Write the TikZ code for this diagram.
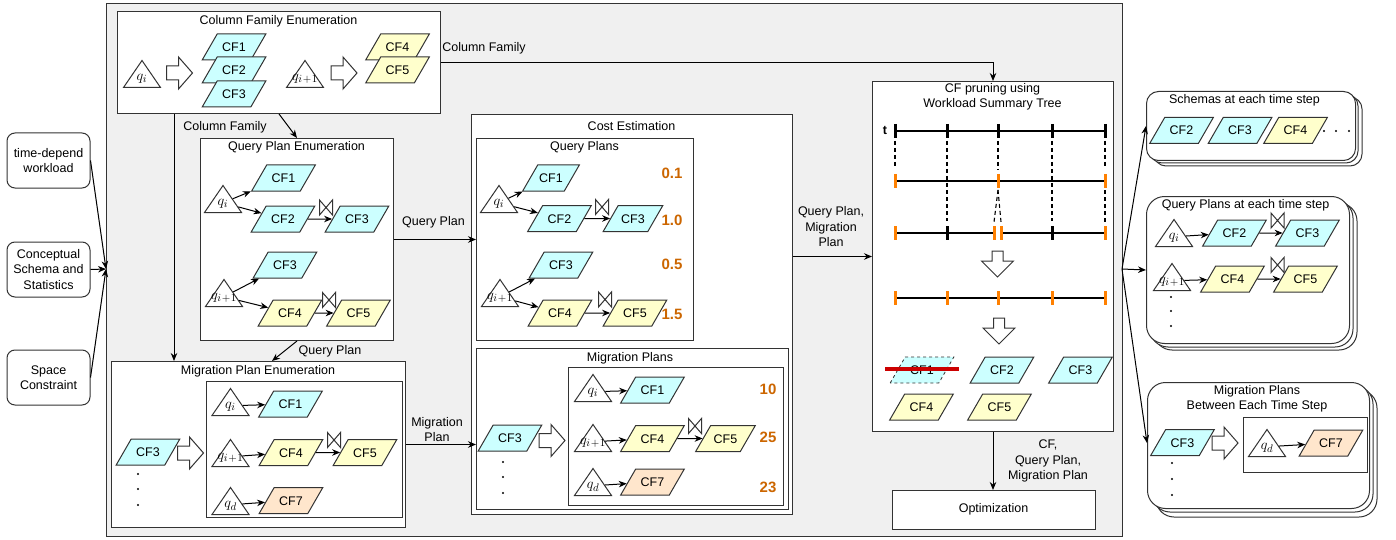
\documentclass[tikz,border=0pt]{standalone}
\usepackage{fontspec}
\setmainfont{Liberation Sans}
\usetikzlibrary{shapes.geometric, arrows.meta, calc}
\DeclareMathSizes{14}{14}{11}{9}
\definecolor{cfblue}{HTML}{CCFFFF}
\definecolor{cfyel}{HTML}{FFFFCC}
\definecolor{cfpch}{HTML}{FFE6CC}
\definecolor{bggray}{HTML}{F0F0F0}
\definecolor{costor}{RGB}{204,102,0}
\definecolor{tickor}{RGB}{255,128,0}
\definecolor{strk}{RGB}{204,0,0}
\definecolor{ln}{HTML}{333333}
\newcommand{\qip}{q_{i\mkern1mu+\mkern1mu1}}
\tikzset{
  box/.style={draw=ln, fill=white, inner sep=0pt, anchor=north west},
  ttl/.style={inner sep=0pt, align=center},
  cf/.style={trapezium, trapezium left angle=60, trapezium right angle=120,
    draw=ln, text height=9pt, text depth=0pt, inner ysep=8.5pt, inner xsep=5pt},
  bl/.style={cf, fill=cfblue},
  yl/.style={cf, fill=cfyel},
  pc/.style={cf, fill=cfpch},
  tri/.style={isosceles triangle, shape border rotate=90, isosceles triangle stretches,
    minimum width=37pt, minimum height=27pt, inner sep=0pt, draw=ln, fill=white, anchor=lower side},
  qt/.style={inner sep=0pt, font=\fontsize{14}{14}\selectfont},
  num/.style={inner sep=0pt, font=\fontsize{15}{15}\selectfont\bfseries, text=costor},
  arr/.style={draw=black, -{Stealth[length=8pt,width=6.5pt]}},
  lbl/.style={inner sep=0pt, align=center},
  dashv/.style={dash pattern=on 4pt off 3pt, line width=1.1pt},
  tl/.style={line width=2pt},
  tkb/.style={line width=3pt},
  tko/.style={line width=3pt, draw=tickor},
  rarrow/.pic={\draw[draw=ln, fill=white] (-13,-7) -- (-1,-7) -- (-1,-16) -- (13,0) -- (-1,16) -- (-1,7) -- (-13,7) -- cycle;},
  darrow/.pic={\draw[draw=ln, fill=white] (-5.5,-13) -- (5.5,-13) -- (5.5,-3) -- (16,-3) -- (0,13) -- (-16,-3) -- (-5.5,-3) -- cycle;},
  bowtie/.pic={\draw[draw=ln] (-6.5,-7.5) -- (-6.5,7.5) -- (6.5,-7.5) -- (6.5,7.5) -- cycle;},
}
\begin{document}
\begin{tikzpicture}[x=1pt, y=-1pt, line width=1pt, font=\fontsize{12.5}{15.5}\selectfont]
\useasboundingbox (0,0) rectangle (1396,540);

% ---------- background panel ----------
\node[box, fill=bggray, minimum width=1016pt, minimum height=533pt] (bg) at (106,3) {};

% ---------- inputs ----------
\node[box, rounded corners=8pt, anchor=center, minimum width=83pt, minimum height=55pt, align=center] (in1) at (48.5,160.5) {time-depend\\workload};
\node[box, rounded corners=8pt, anchor=center, minimum width=83pt, minimum height=55pt, align=center] (in2) at (48.5,269.5) {Conceptual\\Schema and\\Statistics};
\node[box, rounded corners=8pt, anchor=center, minimum width=83pt, minimum height=55pt, align=center] (in3) at (48.5,377.5) {Space\\Constraint};
\coordinate (mrg) at (106,269);
\draw[arr] (in1.east) -- (mrg);
\draw[arr] (in2.east) -- (mrg);
\draw[arr] (in3.east) -- (mrg);

% ---------- Column Family Enumeration ----------
\node[box, minimum width=323pt, minimum height=102pt] (cfe) at (117,11) {};
\node[ttl] (cfeT) at (278.5,21) {Column Family Enumeration};
\node[tri] (ta) at (142,88) {};
\node[qt] (taL) at (142,79) {$q_i$};
\pic at (179.5,73) {rarrow};
\node[bl] (a1) at (234,47) {CF1};
\node[bl] (a2) at (234,70) {CF2};
\node[bl] (a3) at (234,94) {CF3};
\node[tri] (tb) at (305,88) {};
\node[qt] (tbL) at (305,79) {$\qip$};
\pic at (344,73) {rarrow};
\node[yl] (a4) at (397.5,47) {CF4};
\node[yl] (a5) at (397.5,70) {CF5};

% ---------- Query Plan Enumeration ----------
\node[box, minimum width=193pt, minimum height=202pt] (qpe) at (200,138) {};
\node[ttl] (qpeT) at (296.5,147) {Query Plan Enumeration};
\node[tri] (qa) at (223,213) {};
\node[qt] (qaL) at (223,204) {$q_i$};
\node[bl] (q1) at (283.5,178) {CF1};
\node[bl] (q2) at (283,219) {CF2};
\node[bl] (q3) at (357,219) {CF3};
\pic at (326,207.5) {bowtie};
\node[tri] (qb) at (224,307) {};
\node[qt] (qbL) at (224,298) {$\qip$};
\node[bl] (q4) at (285,265) {CF3};
\node[yl] (q5) at (290,313) {CF4};
\node[yl] (q6) at (358.5,313) {CF5};
\pic at (329,300) {bowtie};
\draw[arr] (qa) -- (q1);
\draw[arr] (qa) -- (q2);
\draw[arr] (q2) -- (q3);
\draw[arr] (qb) -- (q4);
\draw[arr] (qb) -- (q5);
\draw[arr] (q5) -- (q6);

% ---------- Migration Plan Enumeration ----------
\node[box, minimum width=294pt, minimum height=166pt] (mpe) at (111,361) {};
\node[ttl] (mpeT) at (258,371) {Migration Plan Enumeration};
\node[box, minimum width=196pt, minimum height=136pt] (mpei) at (206,381) {};
\node[bl] (e0) at (148,452) {CF3};
\fill (138,474) circle (1.1) (138,489) circle (1.1) (138,505) circle (1.1);
\pic at (190.5,453) {rarrow};
\node[tri] (ma) at (230.5,416) {};
\node[qt] (maL) at (230.5,407) {$q_i$};
\node[bl] (e1) at (290.5,404) {CF1};
\node[tri] (mb) at (230.5,467) {};
\node[qt] (mbL) at (230.5,458) {$\qip$};
\node[yl] (e4) at (291,452.5) {CF4};
\node[yl] (e5) at (365,452.5) {CF5};
\pic at (334,440) {bowtie};
\node[tri] (md) at (230.5,515) {};
\node[qt] (mdL) at (230.5,506) {$q_d$};
\node[pc] (e7) at (291,500.5) {CF7};
\draw[arr] (ma) -- (e1);
\draw[arr] (mb) -- (e4);
\draw[arr] (e4) -- (e5);
\draw[arr] (md) -- (e7);

% ---------- Cost Estimation ----------
\node[box, minimum width=321pt, minimum height=400pt] (ce) at (471,114) {};
\node[ttl] (ceT) at (631.5,126) {Cost Estimation};
\node[box, minimum width=217pt, minimum height=202pt] (qps) at (476,138) {};
\node[ttl] (qpsT) at (584.5,147) {Query Plans};
\node[tri] (ca) at (499,213) {};
\node[qt] (caL) at (499,204) {$q_i$};
\node[bl, inner xsep=1.5pt] (k1) at (551,178) {CF1};
\node[bl] (k2) at (559.5,218.5) {CF2};
\node[bl, inner xsep=3pt] (k3) at (633,218.5) {CF3};
\pic at (602,207) {bowtie};
\node[tri] (cb) at (500,307) {};
\node[qt] (cbL) at (500,298) {$\qip$};
\node[bl] (k4) at (561,265) {CF3};
\node[yl] (k5) at (560,313) {CF4};
\node[yl] (k6) at (635,313) {CF5};
\pic at (605,299.5) {bowtie};
\draw[arr] (ca) -- (k1);
\draw[arr] (ca) -- (k2);
\draw[arr] (k2) -- (k3);
\draw[arr] (cb) -- (k4);
\draw[arr] (cb) -- (k5);
\draw[arr] (k5) -- (k6);
\node[num] (n1) at (672,173) {0.1};
\node[num] (n2) at (672,220) {1.0};
\node[num] (n3) at (672,264) {0.5};
\node[num] (n4) at (672,314) {1.5};

\node[box, minimum width=312pt, minimum height=161pt] (mps) at (476,348) {};
\node[ttl] (mpsT) at (630,358) {Migration Plans};
\node[box, minimum width=215pt, minimum height=138pt] (mpsi) at (568,367) {};
\node[bl] (s0) at (510,438) {CF3};
\fill (503,462) circle (1.1) (503,477) circle (1.1) (503,493) circle (1.1);
\pic at (552,440.5) {rarrow};
\node[tri] (pa) at (593,402) {};
\node[qt] (paL) at (593,393) {$q_i$};
\node[bl] (s1) at (652.5,390) {CF1};
\node[tri] (pb) at (593,452) {};
\node[qt] (pbL) at (593,443) {$\qip$};
\node[yl] (s4) at (652.5,438.5) {CF4};
\node[yl, inner xsep=3pt] (s5) at (725.5,438.5) {CF5};
\pic at (695,426) {bowtie};
\node[tri] (pd) at (593,496) {};
\node[qt] (pdL) at (593,487) {$q_d$};
\node[pc] (s7) at (652.5,482) {CF7};
\draw[arr] (pa) -- (s1);
\draw[arr] (pb) -- (s4);
\draw[arr] (s4) -- (s5);
\draw[arr] (pd) -- (s7);
\node[num] (n5) at (768,389) {10};
\node[num] (n6) at (768,437) {25};
\node[num] (n7) at (768,487) {23};

% ---------- CF pruning ----------
\node[box, minimum width=241pt, minimum height=350pt] (pr) at (872,81) {};
\node[ttl] (prT) at (992.5,97) {CF pruning using\\Workload Summary Tree};
\node[inner sep=0pt, font=\fontsize{12.5}{12.5}\selectfont\bfseries] (tT) at (885,130) {t};
% dashed guides
\draw[dashv] (895,141) -- (895,168);
\draw[dashv] (947,141) -- (947,221);
\draw[dashv] (998,141) -- (998,170);
\draw[dashv] (998,190) -- (994,222);
\draw[dashv] (998,190) -- (1001,222);
\draw[dashv] (1052,141) -- (1052,221);
\draw[dashv] (1105,141) -- (1105,168);
\draw[dashv] (1105,190) -- (1105,222);
% row 1
\draw[tl] (895,131) -- (1105,131);
\foreach \x in {895,947,998,1052,1105} \draw[tkb] (\x,124) -- (\x,138);
% row 2
\draw[tl] (895,181) -- (1105,181);
\foreach \x in {895,998,1105} \draw[tko] (\x,174) -- (\x,188);
% row 3
\draw[tl] (895,233) -- (994,233);
\draw[tl] (1001,233) -- (1105,233);
\foreach \x in {947,1052} \draw[tkb] (\x,226) -- (\x,240);
\foreach \x in {895,994,1001,1105} \draw[tko] (\x,226) -- (\x,240);
\pic at (997.5,264) {darrow};
% row 4
\draw[tl] (895,298) -- (1105,298);
\foreach \x in {895,947,998,1052,1105} \draw[tko] (\x,291) -- (\x,305);
\pic at (999,331) {darrow};
\node[bl, dashed, line width=0.8pt] (p1) at (922,370) {CF1};
\draw[strk, line width=4pt] (885,369) -- (959,369);
\node[bl] (p2) at (1002,370) {CF2};
\node[bl] (p3) at (1080.5,370) {CF3};
\node[yl] (p4) at (921.5,407) {CF4};
\node[yl] (p5) at (999.5,407) {CF5};

\node[box, minimum width=203pt, minimum height=39pt] (opt) at (892,490) {};
\node[ttl] (optT) at (993.5,509.5) {Optimization};

% ---------- main connectors ----------
\draw[arr] (cfe.east) -| (pr.north);
\node[lbl] (lb1) at (484,48) {Column Family};
\draw[arr] ($(cfe.south west)+(57,0)$) -- ($(mpe.north west)+(63,0)$);
\node[lbl] (lb2) at (225,127) {Column Family};
\draw[arr] ($(cfe.south west)+(162,0)$) -- (qpe.north);
\draw[arr] (qpe.east) -- (qpe.east -| qps.west);
\node[lbl] (lb3) at (433.5,222) {Query Plan};
\draw[arr] (qpe.south) -- ($(mpe.north west)+(161,0)$);
\node[lbl] (lb4) at (330,351) {Query Plan};
\draw[arr] (mpe.east) -- (mpe.east -| mps.west);
\node[lbl] (lb5) at (437,429.5) {Migration\\Plan};
\draw[arr] (ce.east |- pr.west) -- (pr.west);
\node[lbl] (lb6) at (831,227) {Query Plan,\\Migration\\Plan};
\draw[arr] (pr.south) -- (pr.south |- opt.north);
\node[lbl] (lb7) at (1048,461) {CF,\\Query Plan,\\Migration Plan};

% ---------- outputs ----------
% schemas stack
\draw[draw=ln, fill=white, rounded corners=12pt] (1154,97) rectangle (1362,166);
\draw[draw=ln, fill=white, rounded corners=12pt] (1150,94) rectangle (1358,163);
\node[box, rounded corners=12pt, minimum width=209pt, minimum height=69pt] (sch) at (1146,91) {};
\node[ttl] (schT) at (1244.5,100) {Schemas at each time step};
\node[bl] (r1) at (1181.5,130.5) {CF2};
\node[bl] (r2) at (1240,130.5) {CF3};
\node[yl] (r3) at (1295.5,130.5) {CF4};
\fill (1324,131) circle (1.1) (1336,131) circle (1.1) (1349,131) circle (1.1);

% query plans stack
\draw[draw=ln, fill=white, rounded corners=18pt] (1154,203) rectangle (1357,350);
\draw[draw=ln, fill=white, rounded corners=18pt] (1150,200) rectangle (1353,347);
\node[box, rounded corners=18pt, minimum width=203pt, minimum height=147pt] (qpr) at (1146,196) {};
\node[ttl] (qprT) at (1245.5,205) {Query Plans at each time step};
\node[tri] (ra) at (1174,247) {};
\node[qt] (raL) at (1174,238) {$q_i$};
\node[bl] (u2) at (1234.5,233) {CF2};
\node[bl] (u3) at (1307.5,233) {CF3};
\pic at (1277.5,220.5) {bowtie};
\node[tri] (rb) at (1172,291) {};
\node[qt] (rbL) at (1172,282) {$\qip$};
\node[yl] (u4) at (1232.5,279) {CF4};
\node[yl] (u5) at (1305.5,279) {CF5};
\pic at (1277.5,265) {bowtie};
\fill (1171,297) circle (1.1) (1171,311) circle (1.1) (1171,326) circle (1.1);
\draw[arr] (ra) -- (u2);
\draw[arr] (u2) -- (u3);
\draw[arr] (rb) -- (u4);
\draw[arr] (u4) -- (u5);

% migration plans stack
\draw[draw=ln, fill=white, rounded corners=18pt] (1156,390) rectangle (1377,517);
\draw[draw=ln, fill=white, rounded corners=18pt] (1152,386) rectangle (1373,512);
\node[box, rounded corners=18pt, minimum width=222pt, minimum height=126pt] (mig) at (1147,382) {};
\node[ttl] (migT) at (1257,399) {Migration Plans\\Between Each Time Step};
\node[bl] (w3) at (1182.5,442.5) {CF3};
\pic at (1225,443) {rarrow};
\node[box, minimum width=124pt, minimum height=55pt] (migi) at (1243,417) {};
\node[tri] (rd) at (1267,457) {};
\node[qt] (rdL) at (1267,448) {$q_d$};
\node[pc] (w7) at (1331,443) {CF7};
\draw[arr] (rd) -- (w7);
\fill (1172,463) circle (1.1) (1172,479) circle (1.1) (1172,495) circle (1.1);

% output connectors
\coordinate (spl) at (1122,269);
\draw[arr] (spl) -- (sch.west);
\draw[arr] (spl) -- (qpr.west);
\draw[arr] (spl) -- ($(mig.north west)+(0,61)$);
\end{tikzpicture}
\end{document}
